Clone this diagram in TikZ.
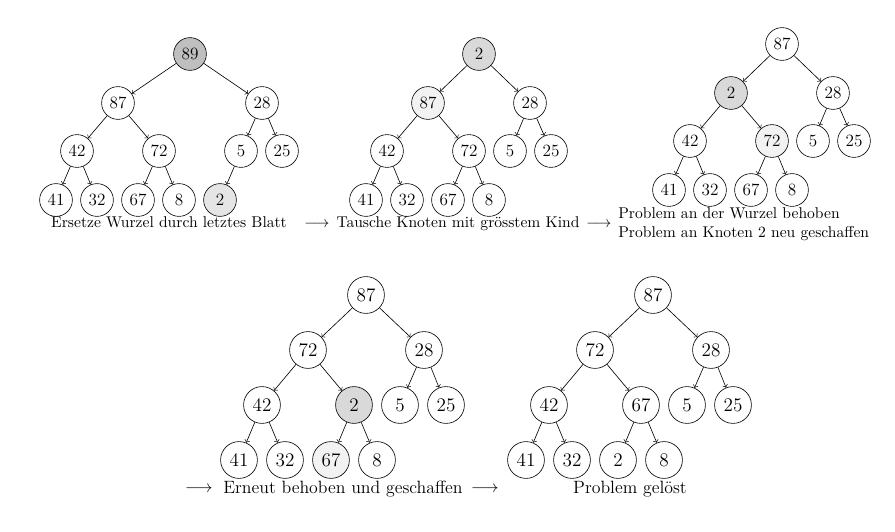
\documentclass[tikz,border=0pt]{standalone}
\usepackage{amssymb}
\usepackage{tikz}

\begin{document}
\begin{tikzpicture}[x=0.641pt, y=-0.641pt,
  knoten/.style={circle, draw, minimum size=21pt, inner sep=0pt, font=\fontsize{11}{13}\selectfont},
  gross/.style={minimum size=23.6pt, font=\fontsize{12.3}{14}\selectfont},
  beschriftung/.style={inner sep=0pt, anchor=base},
  grosstext/.style={font=\fontsize{11.4}{13.6}\selectfont}]
\useasboundingbox (0,0) rectangle (895,532);

\node[knoten, fill=gray!50] (a89) at (190,54) {89};
\node[knoten] (a87) at (118,103) {87};
\node[knoten] (a28) at (262,103) {28};
\node[knoten] (a42) at (77,151) {42};
\node[knoten] (a72) at (159,151) {72};
\node[knoten] (a5) at (241,151) {5};
\node[knoten] (a25) at (282,151) {25};
\node[knoten] (a41) at (56,200) {41};
\node[knoten] (a32) at (97,200) {32};
\node[knoten] (a67) at (138,200) {67};
\node[knoten] (a8) at (179,200) {8};
\node[knoten, fill=gray!20] (a2) at (220,200) {2};
\node[beschriftung] (la) at (169,228) {Ersetze Wurzel durch letztes Blatt};
\node[beschriftung] (pa) at (317,227) {$\longrightarrow$};

\node[knoten, fill=gray!30] (b2) at (479,54) {2};
\node[knoten, fill=gray!10] (b87) at (428,103) {87};
\node[knoten] (b28) at (530,103) {28};
\node[knoten] (b42) at (387,151) {42};
\node[knoten] (b72) at (469,151) {72};
\node[knoten] (b5) at (510,151) {5};
\node[knoten] (b25) at (551,151) {25};
\node[knoten] (b41) at (366,200) {41};
\node[knoten] (b32) at (407,200) {32};
\node[knoten] (b67) at (448,200) {67};
\node[knoten] (b8) at (489,200) {8};
\node[beschriftung] (lb) at (458,228) {Tausche Knoten mit grösstem Kind};
\node[beschriftung] (pb) at (599,227) {$\longrightarrow$};

\node[knoten] (c87) at (782,44) {87};
\node[knoten, fill=gray!30] (c2) at (731,93) {2};
\node[knoten] (c28) at (833,93) {28};
\node[knoten] (c42) at (690,141) {42};
\node[knoten, fill=gray!10] (c72) at (772,141) {72};
\node[knoten] (c5) at (813,141) {5};
\node[knoten] (c25) at (854,141) {25};
\node[knoten] (c41) at (669,190) {41};
\node[knoten] (c32) at (710,190) {32};
\node[knoten] (c67) at (751,190) {67};
\node[knoten] (c8) at (792,190) {8};
\node[inner sep=0pt, anchor=west, align=left] (lc) at (618,224.5) {Problem an der Wurzel behoben\\Problem an Knoten 2 neu geschaffen};

\node[beschriftung, grosstext] (pc) at (199,492) {$\longrightarrow$};
\node[knoten, gross] (d87) at (366,295) {87};
\node[knoten, gross] (d72) at (308,350) {72};
\node[knoten, gross] (d28) at (424,350) {28};
\node[knoten, gross] (d42) at (262,405) {42};
\node[knoten, gross, fill=gray!30] (d2) at (354,405) {2};
\node[knoten, gross] (d5) at (400,405) {5};
\node[knoten, gross] (d25) at (446,405) {25};
\node[knoten, gross] (d41) at (239,460) {41};
\node[knoten, gross] (d32) at (285,460) {32};
\node[knoten, gross, fill=gray!10] (d67) at (331,460) {67};
\node[knoten, gross] (d8) at (377,460) {8};
\node[beschriftung, grosstext] (ld) at (343,493) {Erneut behoben und geschaffen};
\node[beschriftung, grosstext] (pd) at (485,492) {$\longrightarrow$};

\node[knoten, gross] (e87) at (653,295) {87};
\node[knoten, gross] (e72) at (595,350) {72};
\node[knoten, gross] (e28) at (711,350) {28};
\node[knoten, gross] (e42) at (549,405) {42};
\node[knoten, gross] (e67) at (641,405) {67};
\node[knoten, gross] (e5) at (687,405) {5};
\node[knoten, gross] (e25) at (733,405) {25};
\node[knoten, gross] (e41) at (526,460) {41};
\node[knoten, gross] (e32) at (572,460) {32};
\node[knoten, gross] (e2) at (618,460) {2};
\node[knoten, gross] (e8) at (664,460) {8};
\node[beschriftung, grosstext] (le) at (630,493) {Problem gelöst};

\draw[->] (a89) -- (a87); \draw[->] (a89) -- (a28);
\draw[->] (a87) -- (a42); \draw[->] (a87) -- (a72);
\draw[->] (a28) -- (a5); \draw[->] (a28) -- (a25);
\draw[->] (a42) -- (a41); \draw[->] (a42) -- (a32);
\draw[->] (a72) -- (a67); \draw[->] (a72) -- (a8);
\draw[->] (a5) -- (a2);

\draw[->] (b2) -- (b87); \draw[->] (b2) -- (b28);
\draw[->] (b87) -- (b42); \draw[->] (b87) -- (b72);
\draw[->] (b28) -- (b5); \draw[->] (b28) -- (b25);
\draw[->] (b42) -- (b41); \draw[->] (b42) -- (b32);
\draw[->] (b72) -- (b67); \draw[->] (b72) -- (b8);

\draw[->] (c87) -- (c2); \draw[->] (c87) -- (c28);
\draw[->] (c2) -- (c42); \draw[->] (c2) -- (c72);
\draw[->] (c28) -- (c5); \draw[->] (c28) -- (c25);
\draw[->] (c42) -- (c41); \draw[->] (c42) -- (c32);
\draw[->] (c72) -- (c67); \draw[->] (c72) -- (c8);

\draw[->] (d87) -- (d72); \draw[->] (d87) -- (d28);
\draw[->] (d72) -- (d42); \draw[->] (d72) -- (d2);
\draw[->] (d28) -- (d5); \draw[->] (d28) -- (d25);
\draw[->] (d42) -- (d41); \draw[->] (d42) -- (d32);
\draw[->] (d2) -- (d67); \draw[->] (d2) -- (d8);

\draw[->] (e87) -- (e72); \draw[->] (e87) -- (e28);
\draw[->] (e72) -- (e42); \draw[->] (e72) -- (e67);
\draw[->] (e28) -- (e5); \draw[->] (e28) -- (e25);
\draw[->] (e42) -- (e41); \draw[->] (e42) -- (e32);
\draw[->] (e67) -- (e2); \draw[->] (e67) -- (e8);
\end{tikzpicture}
\end{document}
